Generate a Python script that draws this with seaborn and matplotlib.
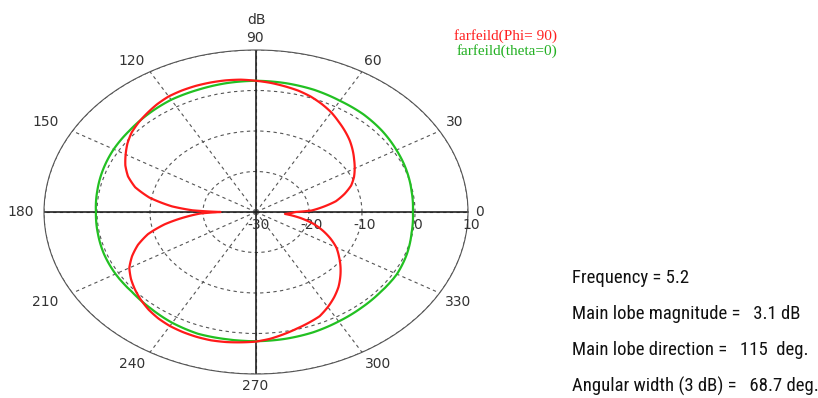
import numpy as np
import pandas as pd
import matplotlib
matplotlib.use("Agg")
import matplotlib.pyplot as plt
from matplotlib import font_manager
from matplotlib.textpath import TextPath
from matplotlib.font_manager import FontProperties
import seaborn as sns

# Far-field cut at phi = 90 deg: angle (deg) and gain (dB)
phi90_deg = [0, 2, 5, 10, 15, 20, 25, 30, 35, 40, 45, 50, 55, 60, 65, 70, 75,
             80, 85, 90, 95, 100, 105, 110, 115, 120, 125, 130, 135, 140, 145,
             150, 155, 160, 165, 170, 175, 178, 180, 182, 185, 190, 195, 200,
             205, 210, 215, 220, 225, 230, 235, 240, 245, 250, 255, 260, 265,
             270, 275, 280, 285, 290, 295, 300, 305, 310, 315, 320, 325, 330,
             335, 340, 345, 350, 355, 360]
phi90_db = [-22.5, -19.5, -17.7, -14.7, -12.7, -10.9, -9.6, -8.5, -7.4, -6.2,
            -5.0, -3.9, -2.8, -1.6, -0.6, 0.3, 1.0, 1.5, 2.0, 2.4, 2.8, 3.0,
            3.1, 3.15, 3.1, 2.95, 2.5, 1.9, 1.3, 0.6, -0.4, -1.6, -2.8, -4.3,
            -6.4, -9.6, -14.1, -18.0, -23.3, -19.5, -16.9, -12.5, -8.9, -6.3,
            -4.2, -2.4, -1.2, -0.2, 0.7, 1.5, 2.1, 2.5, 2.7, 2.8, 2.8, 2.6,
            2.3, 2.0, 1.4, 0.6, -0.2, -0.9, -1.6, -2.9, -4.3, -5.8, -7.5, -9.2,
            -10.9, -12.5, -14.5, -16.6, -18.8, -21.5, -24.5, -22.5]

# Far-field cut at theta = 0 deg
theta0_deg = list(range(0, 361, 10))
theta0_db = [-0.4, -0.2, 0.2, 0.6, 1.1, 1.5, 1.7, 2.1, 2.3, 2.4, 2.3, 2.1, 2.0,
             1.6, 1.2, 1.0, 0.7, 0.4, 0.2, 0.3, 0.5, 0.6, 0.6, 1.0, 1.6, 2.0,
             1.9, 1.9, 1.8, 1.6, 1.2, 0.9, 0.7, 0.7, 0.3, -0.2, -0.4]

r_ticks = [-30, -20, -10, 0, 10]
theta_ticks = list(range(0, 360, 30))
# pixel offsets of each angle label from the rim of the plot
theta_label_offsets = [(11, 0), (15, 9), (11, 11), (-1, 12), (-18, 11),
                       (-27, 9), (-23, 0), (-27, -9), (-18, -12), (-1, -12),
                       (16, -12), (18, -9)]

summary_lines = [
    "Frequency = 5.2",
    "Main lobe magnitude =   3.1 dB",
    "Main lobe direction =   115  deg.",
    "Angular width (3 dB) =   68.7 deg.",
]

sns.set_theme(style="white")
plt.rcParams["font.family"] = ["DejaVu Sans"]

fig = plt.figure(figsize=(8.18, 3.98), dpi=100)
ax = fig.add_axes([44 / 818, 24 / 398, 424 / 818, 324 / 398], projection="polar")
ax.set_aspect("auto")

df_phi = pd.DataFrame({"theta": np.deg2rad(phi90_deg), "db": phi90_db})
df_th = pd.DataFrame({"theta": np.deg2rad(theta0_deg), "db": theta0_db})

ax.set_ylim(r_ticks[0], r_ticks[-1])
ax.set_yticks(r_ticks)
ax.set_yticklabels([])
ax.set_xticks(np.deg2rad(theta_ticks))
ax.set_xticklabels([])

ax.grid(True, color="#555555", linestyle=(0, (3, 3)), linewidth=0.8)
ax.spines["polar"].set_color("#555555")
ax.spines["polar"].set_linewidth(0.8)

for t in (0, 90, 180, 270):
    ax.axvline(np.deg2rad(t), color="#222222", linewidth=1.2, zorder=2)

sns.lineplot(data=df_th, x="theta", y="db", ax=ax, sort=False,
             color="#22c022", linewidth=1.6, zorder=3)
sns.lineplot(data=df_phi, x="theta", y="db", ax=ax, sort=False,
             color="#ff1a1a", linewidth=1.6, zorder=4)
ax.set_xlabel("")
ax.set_ylabel("")
# follow the polar geometry between samples instead of straight chords
for ln in ax.lines[-2:]:
    ln.get_path()._interpolation_steps = 16

for r in r_ticks:
    ax.annotate(str(r), xy=(0, r), xytext=(3, -13), textcoords="offset pixels",
                ha="center", va="center", fontsize=10, color="#333333")

for t, (dx, dy) in zip(theta_ticks, theta_label_offsets):
    ax.annotate(str(t), xy=(np.deg2rad(t), r_ticks[-1]), xytext=(dx, dy),
                textcoords="offset pixels", ha="center", va="center",
                fontsize=10, color="#333333")

ax.annotate("dB", xy=(np.pi / 2, r_ticks[-1]), xytext=(0, 30),
            textcoords="offset pixels", ha="center", va="center",
            fontsize=10, color="#333333")

fig.text(557 / 818, 1 - 36 / 398, "farfeild(Phi= 90)", ha="right", va="center",
         color="#ff2020", fontsize=11, family=["Liberation Serif"])
fig.text(557 / 818, 1 - 51 / 398, "farfeild(theta=0)", ha="right", va="center",
         color="#22b022", fontsize=11, family=["Liberation Serif"])

# narrow sans-serif for the summary block, sized to its line width
available = {f.name for f in font_manager.fontManager.ttflist}
candidates = ["Liberation Sans Narrow", "DejaVu Sans Condensed",
              "Roboto Condensed", "Noto Sans Condensed", "Open Sans Condensed",
              "Noto Sans SemiCondensed", "Liberation Sans"]
narrow = next(n for n in candidates if n in available or n == "Liberation Sans")
fp = FontProperties(family=narrow, size=10)
w10 = TextPath((0, 0), summary_lines[1], prop=fp).get_extents().width
size = 10 * (226 * 72 / 100) / w10
size = min(size, 15)

for i, line in enumerate(summary_lines):
    fig.text(572 / 818, 1 - (278 + 36 * i) / 398, line, ha="left", va="center",
             fontsize=size, color="#111111", family=[narrow])

fig.savefig("out.png", dpi=100)
